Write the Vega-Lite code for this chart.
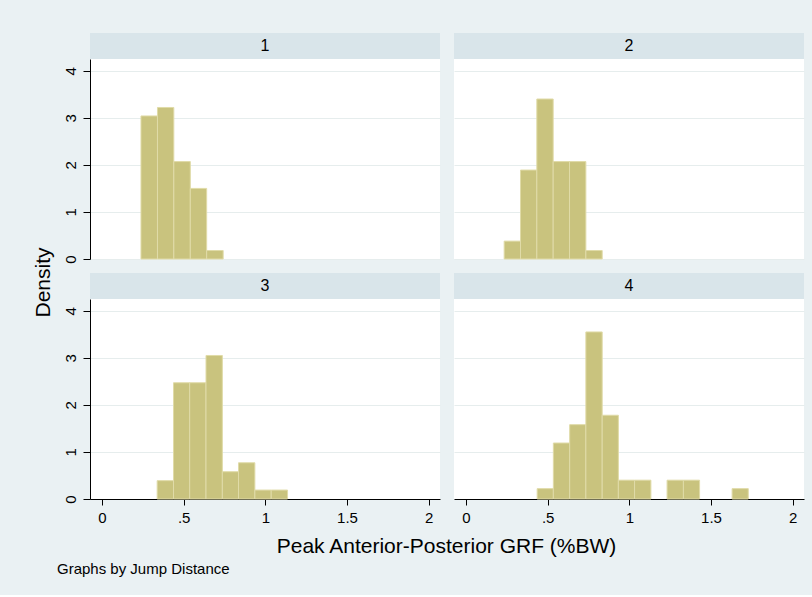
{
  "$schema": "https://vega.github.io/schema/vega-lite/v6.json",
  "background": "#eaf1f3",
  "padding": {"left": 32, "top": 33, "right": 9, "bottom": 18},
  "config": {
    "font": "Liberation Sans",
    "view": {"stroke": null},
    "axis": {"labelColor": "#000000", "titleColor": "#000000", "domainColor": "#000000", "tickColor": "#000000", "labelFontSize": 15, "titleFontWeight": "normal", "gridColor": "#e6eded"}
  },
  "datasets": {
    "groups": [{"g": "1"}, {"g": "2"}, {"g": "3"}, {"g": "4"}],
    "bins": [
      {"g": "1", "x0": 0.239, "x1": 0.340, "density": 3.04},
      {"g": "1", "x0": 0.340, "x1": 0.440, "density": 3.22},
      {"g": "1", "x0": 0.440, "x1": 0.541, "density": 2.07},
      {"g": "1", "x0": 0.541, "x1": 0.641, "density": 1.50},
      {"g": "1", "x0": 0.641, "x1": 0.742, "density": 0.18},
      {"g": "2", "x0": 0.234, "x1": 0.334, "density": 0.38},
      {"g": "2", "x0": 0.334, "x1": 0.434, "density": 1.89},
      {"g": "2", "x0": 0.434, "x1": 0.534, "density": 3.40},
      {"g": "2", "x0": 0.534, "x1": 0.634, "density": 2.07},
      {"g": "2", "x0": 0.634, "x1": 0.734, "density": 2.07},
      {"g": "2", "x0": 0.734, "x1": 0.834, "density": 0.18},
      {"g": "3", "x0": 0.338, "x1": 0.438, "density": 0.39},
      {"g": "3", "x0": 0.438, "x1": 0.537, "density": 2.47},
      {"g": "3", "x0": 0.537, "x1": 0.637, "density": 2.47},
      {"g": "3", "x0": 0.637, "x1": 0.737, "density": 3.05},
      {"g": "3", "x0": 0.737, "x1": 0.836, "density": 0.58},
      {"g": "3", "x0": 0.836, "x1": 0.936, "density": 0.77},
      {"g": "3", "x0": 0.936, "x1": 1.036, "density": 0.19},
      {"g": "3", "x0": 1.036, "x1": 1.136, "density": 0.19},
      {"g": "4", "x0": 0.436, "x1": 0.535, "density": 0.22},
      {"g": "4", "x0": 0.535, "x1": 0.635, "density": 1.19},
      {"g": "4", "x0": 0.635, "x1": 0.734, "density": 1.58},
      {"g": "4", "x0": 0.734, "x1": 0.834, "density": 3.55},
      {"g": "4", "x0": 0.834, "x1": 0.933, "density": 1.78},
      {"g": "4", "x0": 0.933, "x1": 1.032, "density": 0.40},
      {"g": "4", "x0": 1.032, "x1": 1.132, "density": 0.40},
      {"g": "4", "x0": 1.231, "x1": 1.331, "density": 0.40},
      {"g": "4", "x0": 1.331, "x1": 1.430, "density": 0.40},
      {"g": "4", "x0": 1.629, "x1": 1.728, "density": 0.22}
    ]
  },
  "title": {"text": "Graphs by Jump Distance", "orient": "bottom", "anchor": "start", "fontSize": 15, "fontWeight": "normal", "color": "#000000", "dx": 25, "offset": 6},
  "columns": 2,
  "spacing": 14,
  "bounds": "flush",
  "concat": [
    {
      "width": 350, "height": 226,
      "view": {"fill": "#ffffff", "stroke": null},
      "resolve": {"scale": {"y": "independent"}, "axis": {"y": "independent"}},
      "layer": [
        {"data": {"name": "groups"}, "transform": [{"filter": "datum.g == '1'"}],
         "mark": {"type": "rect", "color": "#d9e5ea"},
         "encoding": {"y": {"datum": 0, "type": "quantitative", "scale": {"domain": [0, 1], "range": [26, 0]}, "axis": null}, "y2": {"datum": 1}}},
        {"data": {"name": "groups"}, "transform": [{"filter": "datum.g == '1'"}],
         "mark": {"type": "text", "fontSize": 16, "color": "#000000", "baseline": "middle", "align": "center"},
         "encoding": {"y": {"datum": 0.5, "type": "quantitative", "scale": {"domain": [0, 1], "range": [26, 0]}, "axis": null}, "text": {"field": "g", "type": "nominal"}}},
        {"data": {"name": "bins"}, "transform": [{"filter": "datum.g == '1'"}],
         "mark": {"type": "rect", "fill": "#c9c37e", "stroke": "#e0dba8", "strokeWidth": 1},
         "encoding": {
           "x": {"field": "x0", "type": "quantitative", "scale": {"domain": [-0.073, 2.069], "nice": false, "zero": false}, "axis": null},
           "x2": {"field": "x1"},
           "y": {"field": "density", "type": "quantitative", "scale": {"domain": [0, 4.25], "range": [226, 26], "nice": false},
                 "axis": {"values": [0, 1, 2, 3, 4], "format": "d", "labelAngle": -90, "tickSize": 7, "labelPadding": 5, "grid": true, "title": "Density", "titleFontSize": 21, "titleY": 249, "titlePadding": 10}},
           "y2": {"datum": 0}
         }}
      ]
    },
    {
      "width": 350, "height": 226,
      "view": {"fill": "#ffffff", "stroke": null},
      "resolve": {"scale": {"y": "independent"}, "axis": {"y": "independent"}},
      "layer": [
        {"data": {"name": "groups"}, "transform": [{"filter": "datum.g == '2'"}],
         "mark": {"type": "rect", "color": "#d9e5ea"},
         "encoding": {"y": {"datum": 0, "type": "quantitative", "scale": {"domain": [0, 1], "range": [26, 0]}, "axis": null}, "y2": {"datum": 1}}},
        {"data": {"name": "groups"}, "transform": [{"filter": "datum.g == '2'"}],
         "mark": {"type": "text", "fontSize": 16, "color": "#000000", "baseline": "middle", "align": "center"},
         "encoding": {"y": {"datum": 0.5, "type": "quantitative", "scale": {"domain": [0, 1], "range": [26, 0]}, "axis": null}, "text": {"field": "g", "type": "nominal"}}},
        {"data": {"name": "bins"}, "transform": [{"filter": "datum.g == '2'"}],
         "mark": {"type": "rect", "fill": "#c9c37e", "stroke": "#e0dba8", "strokeWidth": 1},
         "encoding": {
           "x": {"field": "x0", "type": "quantitative", "scale": {"domain": [-0.073, 2.069], "nice": false, "zero": false}, "axis": null},
           "x2": {"field": "x1"},
           "y": {"field": "density", "type": "quantitative", "scale": {"domain": [0, 4.25], "range": [226, 26], "nice": false},
                 "axis": {"values": [0, 1, 2, 3, 4], "labels": false, "ticks": false, "domain": false, "grid": true, "title": null}},
           "y2": {"datum": 0}
         }}
      ]
    },
    {
      "width": 350, "height": 226,
      "view": {"fill": "#ffffff", "stroke": null},
      "resolve": {"scale": {"y": "independent"}, "axis": {"y": "independent"}},
      "layer": [
        {"data": {"name": "groups"}, "transform": [{"filter": "datum.g == '3'"}],
         "mark": {"type": "rect", "color": "#d9e5ea"},
         "encoding": {"y": {"datum": 0, "type": "quantitative", "scale": {"domain": [0, 1], "range": [26, 0]}, "axis": null}, "y2": {"datum": 1}}},
        {"data": {"name": "groups"}, "transform": [{"filter": "datum.g == '3'"}],
         "mark": {"type": "text", "fontSize": 16, "color": "#000000", "baseline": "middle", "align": "center"},
         "encoding": {"y": {"datum": 0.5, "type": "quantitative", "scale": {"domain": [0, 1], "range": [26, 0]}, "axis": null}, "text": {"field": "g", "type": "nominal"}}},
        {"data": {"name": "bins"}, "transform": [{"filter": "datum.g == '3'"}],
         "mark": {"type": "rect", "fill": "#c9c37e", "stroke": "#e0dba8", "strokeWidth": 1},
         "encoding": {
           "x": {"field": "x0", "type": "quantitative", "scale": {"domain": [-0.073, 2.069], "nice": false, "zero": false},
                 "axis": {"values": [0, 0.5, 1, 1.5, 2], "labelExpr": "replace(toString(datum.value), /^0\\./, '.')", "tickSize": 6, "labelPadding": 5, "grid": false, "title": "Peak Anterior-Posterior GRF (%BW)", "titleFontSize": 21, "titleX": 356, "titleAlign": "center", "titlePadding": 10}},
           "x2": {"field": "x1"},
           "y": {"field": "density", "type": "quantitative", "scale": {"domain": [0, 4.25], "range": [226, 26], "nice": false},
                 "axis": {"values": [0, 1, 2, 3, 4], "format": "d", "labelAngle": -90, "tickSize": 7, "labelPadding": 5, "grid": true, "title": null}},
           "y2": {"datum": 0}
         }}
      ]
    },
    {
      "width": 350, "height": 226,
      "view": {"fill": "#ffffff", "stroke": null},
      "resolve": {"scale": {"y": "independent"}, "axis": {"y": "independent"}},
      "layer": [
        {"data": {"name": "groups"}, "transform": [{"filter": "datum.g == '4'"}],
         "mark": {"type": "rect", "color": "#d9e5ea"},
         "encoding": {"y": {"datum": 0, "type": "quantitative", "scale": {"domain": [0, 1], "range": [26, 0]}, "axis": null}, "y2": {"datum": 1}}},
        {"data": {"name": "groups"}, "transform": [{"filter": "datum.g == '4'"}],
         "mark": {"type": "text", "fontSize": 16, "color": "#000000", "baseline": "middle", "align": "center"},
         "encoding": {"y": {"datum": 0.5, "type": "quantitative", "scale": {"domain": [0, 1], "range": [26, 0]}, "axis": null}, "text": {"field": "g", "type": "nominal"}}},
        {"data": {"name": "bins"}, "transform": [{"filter": "datum.g == '4'"}],
         "mark": {"type": "rect", "fill": "#c9c37e", "stroke": "#e0dba8", "strokeWidth": 1},
         "encoding": {
           "x": {"field": "x0", "type": "quantitative", "scale": {"domain": [-0.073, 2.069], "nice": false, "zero": false},
                 "axis": {"values": [0, 0.5, 1, 1.5, 2], "labelExpr": "replace(toString(datum.value), /^0\\./, '.')", "tickSize": 6, "labelPadding": 5, "grid": false, "title": null}},
           "x2": {"field": "x1"},
           "y": {"field": "density", "type": "quantitative", "scale": {"domain": [0, 4.25], "range": [226, 26], "nice": false},
                 "axis": {"values": [0, 1, 2, 3, 4], "labels": false, "ticks": false, "domain": false, "grid": true, "title": null}},
           "y2": {"datum": 0}
         }}
      ]
    }
  ]
}
